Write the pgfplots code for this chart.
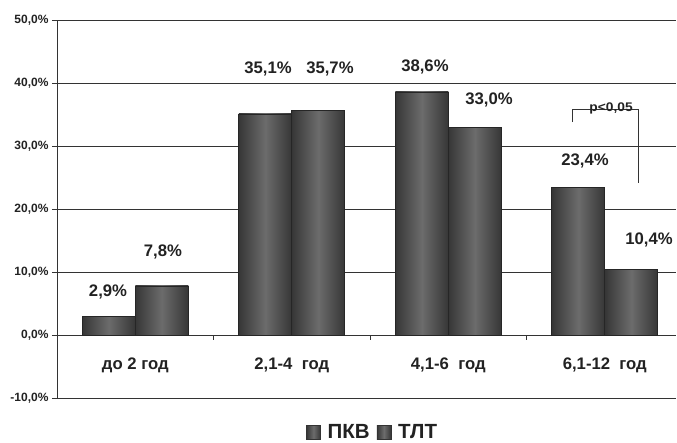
\documentclass[border=0pt]{standalone}
\usepackage{pgfplots}
\pgfplotsset{compat=1.18}
\usepackage{graphicx}
\usepackage{fontspec}
\setmainfont{Liberation Sans}
\definecolor{txt}{HTML}{222222}
\definecolor{bedge}{HTML}{363636}
\definecolor{bmid}{HTML}{6C6C6C}
\pgfplotsset{
  mybar/.style={draw=black!85, line width=0.6pt, left color=bedge, right color=bedge, middle color=bmid, forget plot},
}
\begin{document}
\begin{tikzpicture}
\begin{axis}[
  scale only axis,
  width=619pt, height=378pt,
  xmin=-0.5, xmax=3.455,
  ymin=-10, ymax=50,
  axis x line=middle,
  axis y line=left,
  axis line style={-, color=black!80, line width=0.8pt},
  xtick={0,1,2,3},
  xticklabels={{до 2 год},{2,1-4\ \ год},{4,1-6\ \ год},{6,1-12\ \ год}},
  x tick style={draw=none},
  xticklabel style={font=\bfseries\fontsize{16.7}{16.7}\selectfont, text=txt, yshift=-14pt},
  ytick={-10,0,10,20,30,40,50},
  yticklabels={{-10,0\%},{0,0\%},{10,0\%},{20,0\%},{30,0\%},{40,0\%},{50,0\%}},
  yticklabel style={font=\bfseries\fontsize{12}{12}\selectfont, text=txt},
  ytick align=outside,
  y tick style={color=black!80, line width=0.8pt},
  major tick length=5pt,
  ymajorgrids,
  grid style={color=black!80, line width=0.8pt},
  ybar=0pt,
  bar width=53pt,
  legend style={at={(rel axis cs:0.510,-0.09)}, anchor=center, draw=none, fill=none,
    legend columns=2, font=\bfseries\fontsize{20.5}{20.5}\selectfont, text=txt,
    /tikz/every even column/.append style={column sep=5pt}},
  legend image code/.code={\draw[draw=black!80, left color=bedge, right color=bedge, middle color=bmid] (0pt,-7pt) rectangle (14pt,7pt); \path (19pt,0pt);},
  clip=false,
]
% ПКВ
\addplot[mybar, bar shift=-26.5pt] coordinates {(0,2.9)};
\addplot[mybar, bar shift=-26.5pt] coordinates {(1,35.1)};
\addplot[mybar, bar shift=-26.5pt] coordinates {(2,38.6)};
\addplot[mybar, bar shift=-26.5pt] coordinates {(3,23.4)};
% ТЛТ
\addplot[mybar, bar shift=26.5pt] coordinates {(0,7.8)};
\addplot[mybar, bar shift=26.5pt] coordinates {(1,35.7)};
\addplot[mybar, bar shift=26.5pt] coordinates {(2,33.0)};
\addplot[mybar, bar shift=26.5pt] coordinates {(3,10.4)};
\addlegendimage{}
\addlegendentry{ПКВ}
\addlegendimage{}
\addlegendentry{ТЛТ}
% value labels
\begin{scope}[every node/.style={font=\bfseries\fontsize{16.7}{16.7}\selectfont, text=txt}]
\node at (axis cs:-0.174,6.8) {2,9\%};
\node at (axis cs:0.177,13.2) {7,8\%};
\node at (axis cs:0.848,42.2) {35,1\%};
\node at (axis cs:1.244,42.2) {35,7\%};
\node at (axis cs:1.851,42.5) {38,6\%};
\node at (axis cs:2.26,37.3) {33,0\%};
\node at (axis cs:2.874,27.6) {23,4\%};
\node at (axis cs:3.283,15.1) {10,4\%};
\end{scope}
% tick marks between groups
\pgfplotsinvokeforeach{0.5,1.5,2.5}{\draw[black!80, line width=0.8pt] (axis cs:#1,0) -- ++(0pt,-5pt);}
% significance bracket
\draw[black!80, line width=0.6pt] (axis cs:2.79,33.8) |- (axis cs:3.213,35.9) -- (axis cs:3.213,24.1);
\node[font=\bfseries\fontsize{12.5}{12.5}\selectfont, text=txt, anchor=base, inner sep=0pt] at (axis cs:3.04,35.4) {\scalebox{1.1}[1]{p<0,05}};
\end{axis}
\pgfresetboundingbox
\path[use as bounding box] (-57pt,-44pt) rectangle (620pt,398pt);
\end{tikzpicture}
\end{document}
